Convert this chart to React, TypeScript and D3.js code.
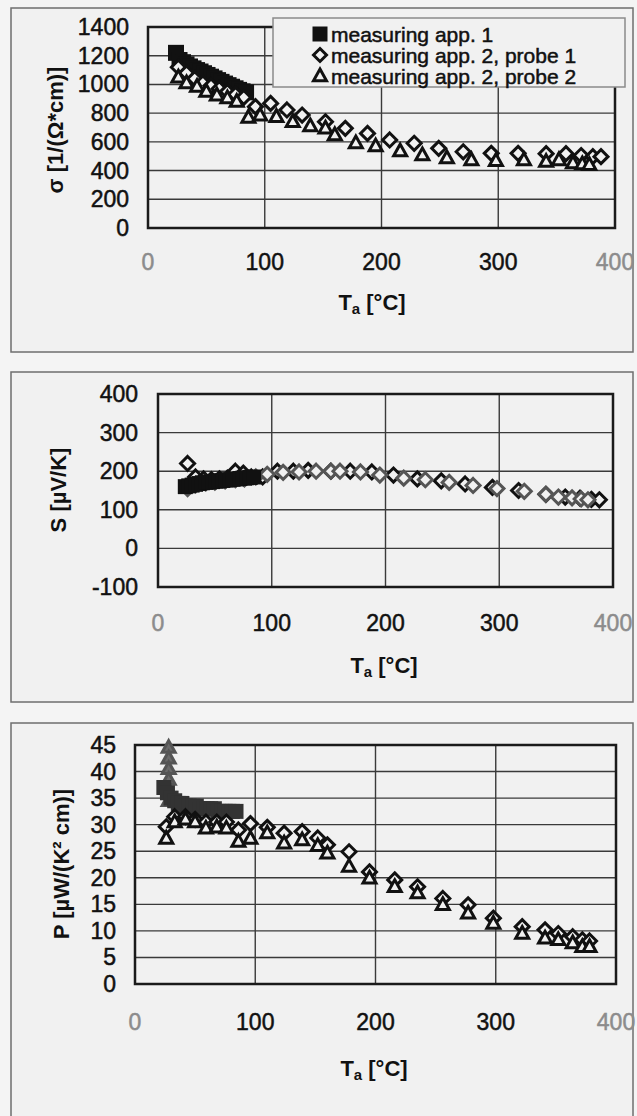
import React from 'react';
import * as d3 from 'd3';

// temperatures [°C]
const tempApp1 = [24, 27, 30, 33, 36, 39, 42, 45, 48, 51, 54, 57, 60, 63, 66, 69, 72, 75, 78, 81, 84];
const tempProbe1 = [26, 33, 40, 47, 54, 61, 68, 75, 82, 92, 105, 119, 132, 152, 169, 188, 207, 228, 249, 270, 294, 317, 341, 358, 371, 381, 388];
const tempProbe2 = [26, 33, 42, 50, 59, 68, 76, 86, 96, 110, 124, 139, 152, 160, 178, 195, 216, 235, 256, 277, 298, 322, 341, 352, 364, 372, 378];
const tempStart = [28, 28, 28, 28, 28, 28];

// conductivity [1/(Ohm*cm)]
const sigmaApp1 = [1220, 1170, 1155, 1140, 1125, 1112, 1100, 1090, 1078, 1066, 1054, 1042, 1030, 1018, 1006, 995, 984, 973, 962, 952, 945];
const sigmaProbe1 = [1120, 1080, 1040, 1010, 990, 970, 950, 930, 910, 845, 868, 822, 787, 740, 694, 659, 613, 590, 555, 531, 520, 520, 518, 518, 505, 497, 497];
const sigmaProbe2 = [1050, 1010, 985, 950, 925, 905, 880, 770, 785, 775, 740, 710, 694, 648, 592, 570, 535, 508, 487, 474, 468, 474, 462, 474, 452, 445, 440];

// seebeck [µV/K]
const seebeckApp1 = [160, 162, 164, 166, 168, 170, 171, 172, 173, 174, 175, 176, 177, 178, 179, 180, 181, 182, 183, 184, 185];
const seebeckProbe1 = [220, 185, 180, 178, 180, 182, 200, 195, 185, 185, 200, 200, 202, 200, 200, 198, 190, 180, 175, 167, 158, 150, 140, 133, 130, 127, 126];
const seebeckProbe2 = [155, 165, 170, 172, 175, 178, 180, 185, 192, 197, 198, 200, 200, 200, 198, 190, 182, 178, 171, 163, 155, 148, 140, 133, 131, 128, 126];

// power factor [µW/(K² cm)]
const powerApp1 = [37, 36, 35, 34.5, 34, 34, 33.5, 33.5, 33.5, 33.5, 33, 33, 33, 33, 33, 32.5, 32.5, 32.5, 32.5, 32.5, 32.5];
const powerProbe1 = [29.6, 31.5, 31.5, 31, 30.5, 30.5, 30.5, 29, 30.2, 29.5, 28.4, 28.7, 27.5, 26.2, 24.9, 21.1, 19.6, 18.3, 16.1, 14.9, 12.4, 10.8, 10.2, 9.5, 8.9, 8.3, 8.1];
const powerProbe2 = [27.4, 30.5, 31, 30.5, 29.3, 29.5, 29.3, 26.8, 27.4, 28.4, 26.5, 27.1, 26, 24.6, 22.1, 19.9, 18.3, 17.1, 14.9, 13.3, 11.4, 9.5, 8.6, 8.3, 7.7, 7.0, 7.0];
const powerStart = [44.5, 42.5, 40.5, 38.5, 36.5, 34.5];

const xTicks = [0, 100, 200, 300, 400];
const sigmaTicks = [0, 200, 400, 600, 800, 1000, 1200, 1400];
const seebeckTicks = [-100, 0, 100, 200, 300, 400];
const powerTicks = [0, 5, 10, 15, 20, 25, 30, 35, 40, 45];

const legendLabels = ['measuring app. 1', 'measuring app. 2, probe 1', 'measuring app. 2, probe 2'];

const BG = '#f1f1f1';
const FONT = '"Liberation Sans", Arial, sans-serif';

type Shape = 'square' | 'diamond' | 'triangle';

function shapePath(shape: Shape, s: number) {
  if (shape === 'square') return `M${-s / 2},${-s / 2}h${s}v${s}h${-s}Z`;
  if (shape === 'diamond') return `M0,${-s / 2}L${s / 2},0L0,${s / 2}L${-s / 2},0Z`;
  const h = s * 0.9;
  return `M0,${-h * 0.6}L${s / 2},${h * 0.4}L${-s / 2},${h * 0.4}Z`;
}

interface Series {
  t: number[];
  v: number[];
  shape: Shape;
  color: string;
  fill: string;
  size: number;
}

interface PanelProps {
  frame: number[];
  plot: number[];
  yDomain: [number, number];
  yTicks: number[];
  yTickRight: number;
  xTickY: number;
  xLabelPos: number[];
  yLabel: string;
  yLabelPos: number[];
  series: Series[];
}

function Panel(p: PanelProps) {
  const [fx0, fy0, fx1, fy1] = p.frame;
  const [px0, py0, px1, py1] = p.plot;
  const x = d3.scaleLinear().domain([0, 400]).range([px0, px1]);
  const y = d3.scaleLinear().domain(p.yDomain).range([py1, py0]);
  return (
    <g>
      <rect x={fx0} y={fy0} width={fx1 - fx0} height={fy1 - fy0} fill={BG} stroke="#6e6e6e" strokeWidth={1.5} />
      <rect x={px0} y={py0} width={px1 - px0} height={py1 - py0} fill={BG} />
      {p.yTicks.map(v => (
        <line key={'h' + v} x1={px0} x2={px1} y1={y(v)} y2={y(v)} stroke="#3a3a3a" strokeWidth={1.4} />
      ))}
      {xTicks.map(v => (
        <line key={'v' + v} x1={x(v)} x2={x(v)} y1={py0} y2={py1} stroke="#3a3a3a" strokeWidth={1.4} />
      ))}
      <rect x={px0} y={py0} width={px1 - px0} height={py1 - py0} fill="none" stroke="#1a1a1a" strokeWidth={2.5} />
      {p.yTicks.map(v => (
        <text key={'yl' + v} x={p.yTickRight} y={y(v)} textAnchor="end" dominantBaseline="central"
          fontSize={23} fontFamily={FONT} fill="#111" stroke="#111" strokeWidth={0.5}>{v}</text>
      ))}
      {xTicks.map((v, i) => {
        const c = i === 0 || i === xTicks.length - 1 ? '#8c8c8c' : '#111';
        return (
          <text key={'xl' + v} x={x(v)} y={p.xTickY} textAnchor="middle" dominantBaseline="central"
            fontSize={23} fontFamily={FONT} fill={c} stroke={c} strokeWidth={0.5}>{v}</text>
        );
      })}
      <text x={p.xLabelPos[0]} y={p.xLabelPos[1]} textAnchor="middle" dominantBaseline="central"
        fontSize={22} fontWeight="bold" fontFamily={FONT} fill="#111">
        <tspan>T</tspan>
        <tspan fontSize={15} dy={6}>a</tspan>
        <tspan dy={-6}> [°C]</tspan>
      </text>
      <text transform={`translate(${p.yLabelPos[0]},${p.yLabelPos[1]}) rotate(-90)`} textAnchor="middle"
        dominantBaseline="central" fontSize={22} fontWeight="bold" fontFamily={FONT} fill="#111">{p.yLabel}</text>
      {p.series.map((s, si) => (
        <g key={'s' + si}>
          {s.t.map((t, i) => (
            <path key={i} transform={`translate(${x(t)},${y(s.v[i])})`} d={shapePath(s.shape, s.size)}
              fill={s.fill} stroke={s.shape === 'square' ? 'none' : s.color}
              strokeWidth={3} strokeLinejoin="miter" />
          ))}
        </g>
      ))}
    </g>
  );
}

export default function App() {
  const legendShapes: Shape[] = ['square', 'diamond', 'triangle'];
  return (
    <svg width={637} height={1116} style={{ position: 'absolute', left: 0, top: 0, background: '#f4f4f4' }}>
      <Panel
        frame={[11, 8, 633, 352]}
        plot={[148, 27, 615, 228]}
        yDomain={[0, 1400]}
        yTicks={sigmaTicks}
        yTickRight={129}
        xTickY={262}
        xLabelPos={[372, 302]}
        yLabel="σ [1/(Ω*cm)]"
        yLabelPos={[55, 130]}
        series={[
          { t: tempApp1, v: sigmaApp1, shape: 'square', color: '#111', fill: '#111', size: 16 },
          { t: tempProbe1, v: sigmaProbe1, shape: 'diamond', color: '#111', fill: BG, size: 14 },
          { t: tempProbe2, v: sigmaProbe2, shape: 'triangle', color: '#111', fill: BG, size: 13 },
        ]}
      />
      <rect x={273} y={18} width={352} height={69} fill={BG} stroke="#8a8a8a" strokeWidth={1.5} />
      {legendLabels.map((l, i) => (
        <g key={l}>
          <path transform={`translate(320,${34 + i * 21})`} d={shapePath(legendShapes[i], i === 0 ? 15 : 13)}
            fill={i === 0 ? '#111' : BG} stroke={i === 0 ? 'none' : '#111'} strokeWidth={3} />
          <text x={331} y={34 + i * 21} dominantBaseline="central" fontSize={21} fontFamily={FONT}
            fill="#111" stroke="#111" strokeWidth={0.5}>{l}</text>
        </g>
      ))}
      <Panel
        frame={[11, 372, 633, 702]}
        plot={[158, 394, 613, 587]}
        yDomain={[-100, 400]}
        yTicks={seebeckTicks}
        yTickRight={138}
        xTickY={623}
        xLabelPos={[384, 665]}
        yLabel="S [µV/K]"
        yLabelPos={[58, 490]}
        series={[
          { t: tempProbe1, v: seebeckProbe1, shape: 'diamond', color: '#111', fill: BG, size: 14 },
          { t: tempProbe2, v: seebeckProbe2, shape: 'diamond', color: '#555', fill: BG, size: 14 },
          { t: tempApp1, v: seebeckApp1, shape: 'square', color: '#111', fill: '#111', size: 15 },
        ]}
      />
      <Panel
        frame={[11, 723, 633, 1125]}
        plot={[135, 745, 616, 984]}
        yDomain={[0, 45]}
        yTicks={powerTicks}
        yTickRight={116}
        xTickY={1022}
        xLabelPos={[374, 1068]}
        yLabel="P [µW/(K² cm)]"
        yLabelPos={[61, 864]}
        series={[
          { t: tempStart, v: powerStart, shape: 'triangle', color: '#555', fill: '#6a6a6a', size: 13 },
          { t: tempApp1, v: powerApp1, shape: 'square', color: '#333', fill: '#333', size: 15 },
          { t: tempProbe2, v: powerProbe1, shape: 'diamond', color: '#111', fill: BG, size: 14 },
          { t: tempProbe2, v: powerProbe2, shape: 'triangle', color: '#111', fill: BG, size: 13 },
        ]}
      />
    </svg>
  );
}
